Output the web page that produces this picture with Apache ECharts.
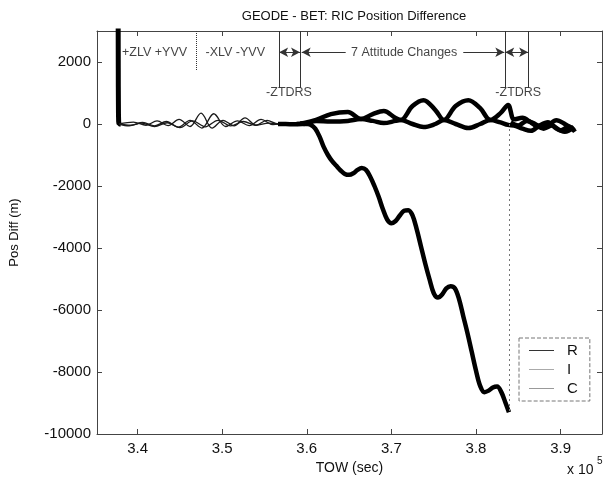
<!DOCTYPE html>
<html><head><meta charset="utf-8">
<script src="https://cdn.jsdelivr.net/npm/echarts@6/dist/echarts.min.js"></script>
<style>html,body{margin:0;padding:0;background:#fff}#c{width:609px;height:485px}</style>
</head><body><div id="c"></div>
<script>
// ---- axis ticks ----
const xTicks = [340000, 350000, 360000, 370000, 380000, 390000];
const yTicks = [-10000, -8000, -6000, -4000, -2000, 0, 2000];

// ---- initial convergence spike ----
const spikeTow = [337700, 337705, 337710, 337715, 337720, 337730, 337740, 337760, 337800, 338000];
const spikeVal = [3600, 3000, 2400, 1800, 1200, 700, 300, 80, 0, 0];

// ---- early (thin) parts ----
const rEarlyTow = [337800, 339500, 341000, 342300, 343600, 344900, 346200, 347500, 348800, 350100, 351400, 352700, 354000, 355300, 356600, 357900, 359200];
const rEarlyVal = [0, 60, -40, 100, -50, 150, -80, 350, -130, 120, -60, 200, -40, 120, 0, 40, 20];
const iEarlyTow = [337800, 339000, 340500, 342000, 343500, 345000, 346500, 348000, 349500, 351000, 352500, 354000, 355500, 356600];
const iEarlyVal = [0, -60, 30, -80, 40, -120, 100, -90, 120, -60, 80, -40, 30, 0];
const cEarlyTow = [337800, 339200, 340600, 342000, 343400, 344800, 346200, 347600, 349000, 350400, 351800, 353200, 354600, 356000, 357400, 358800];
const cEarlyVal = [0, -40, 50, -60, 80, -100, 120, -130, 330, -80, 100, -50, 150, -20, 30, 0];

// ---- later (thick) parts ----
const rTow = [359200, 359700, 361100, 362850, 364850, 366400, 367800, 369100, 370500, 371100, 372500, 373800, 375200, 376200, 377600, 379100, 380500, 381700, 382900, 383800, 384500, 385500, 386500, 387500, 388500, 389500, 390500, 391600];
const rVal = [20, 30, 130, 320, 390, 160, 320, 420, 190, 130, 580, 770, 450, 130, 580, 770, 510, 130, 350, 610, 150, 200, 50, -100, -50, 120, 0, -200];
const cTow = [358800, 359700, 361100, 362850, 364850, 366400, 367800, 369100, 370500, 371100, 372500, 373800, 375200, 376200, 377600, 379100, 380500, 381700, 382900, 383800, 384500, 385500, 386500, 387500, 388500, 389500, 390500, 391600];
const cVal = [0, 0, 100, 80, 100, 160, 100, 30, 100, 130, 0, -100, 0, 130, 0, -130, 0, 130, 50, -30, -50, -150, -220, -50, 60, -150, -250, -100];
const iTow = [356600, 357500, 358500, 359500,
  360000, 360500, 361000, 361500, 362000, 362500, 363000, 363500, 364000, 364500,
  365000, 365500, 366000, 366500, 367000, 367500, 368000, 368500, 369000, 369500,
  370000, 370500, 371000, 371500, 372000, 372500, 373000, 373500, 374000, 374500,
  375000, 375500, 376000, 376500, 377000, 377500, 378000, 378500, 379000, 379500,
  380000, 380500, 381000, 381500, 382000, 382500, 383000, 383500, 383900];
const iVal = [0, 0, -10, 10,
  0, -30, -150, -400, -740, -1000, -1200, -1350, -1500, -1610,
  -1640, -1590, -1480, -1420, -1480, -1700, -2000, -2350, -2750, -3080,
  -3200, -3130, -2950, -2800, -2780, -2950, -3400, -3950, -4500, -5000,
  -5450, -5600, -5500, -5300, -5230, -5300, -5650, -6200, -6750, -7350,
  -7950, -8450, -8650, -8600, -8500, -8470, -8650, -9000, -9300];
const iAfterTow = [384100, 385000, 386000, 387000, 388000, 389000, 390000, 391000, 391700];
const iAfterVal = [50, -50, 100, 0, -150, -50, -200, -80, -250];

// ---- annotations (data space) ----
const markerTow = [346950, 356730, 359200, 383460, 386170];
const markerBottom = [1740, 1160, 1160, 1160, 1160];
const labelTexts = ['+ZLV +YVV', '-XLV -YVV', '7 Attitude Changes', '-ZTDRS', '-ZTDRS'];
const labelTow = [342000, 351540, 371510, 357900, 385000];
const labelVal = [2315, 2315, 2315, 1030, 1030];
const arrowRowVal = 2315;
const jumpTow = 383900;

const zip = (a, b) => a.map((v, i) => [v, b[i]]);
const FONT = 'Liberation Sans, Arial, sans-serif';
const XMIN = 335200, XMAX = 394900, YMIN = -10000, YMAX = 3000;

const thin = { color: '#1a1a1a', width: 1.3 };
const thick = { color: '#000', width: 4.5 };
function line(name, data, ls, extra) {
  return Object.assign({ type: 'line', name, data: data, symbol: 'none', showSymbol: false, smooth: 0.35,
    lineStyle: ls, itemStyle: { color: ls.color }, clip: true, silent: true, z: 3 }, extra || {});
}

const annotLines = [];
markerTow.forEach((t, i) => {
  annotLines.push([{ coord: [t, YMAX], symbol: 'none', lineStyle: { type: i === 0 ? 'dotted' : 'solid' } },
                   { coord: [t, markerBottom[i]], symbol: 'none' }]);
});
annotLines.push([{ coord: [markerTow[1], arrowRowVal], symbol: 'arrow' }, { coord: [markerTow[2], arrowRowVal], symbol: 'arrow' }]);
annotLines.push([{ coord: [markerTow[3], arrowRowVal], symbol: 'arrow' }, { coord: [markerTow[4], arrowRowVal], symbol: 'arrow' }]);
annotLines.push([{ coord: [359400, arrowRowVal], symbol: 'arrow' }, { coord: [364600, arrowRowVal], symbol: 'none' }]);
annotLines.push([{ coord: [378500, arrowRowVal], symbol: 'none' }, { coord: [383350, arrowRowVal], symbol: 'arrow' }]);
annotLines.push([{ coord: [jumpTow, 0], symbol: 'none', lineStyle: { type: [2, 3], color: '#777' } },
                 { coord: [jumpTow, iVal[iVal.length - 1]], symbol: 'none' }]);

const chart = echarts.init(document.getElementById('c'), null, { renderer: 'canvas' });
const axisCommon = {
  type: 'value', splitLine: { show: false },
  axisLine: { show: true, onZero: false, lineStyle: { color: '#444', width: 1 } },
};
const legendIcon = 'path://M0,0L25,0L25,1L0,1Z';
chart.setOption({
  animation: false,
  backgroundColor: '#fff',
  title: { text: 'GEODE - BET: RIC Position Difference', left: 349, top: 5, textAlign: 'center',
    textStyle: { fontFamily: FONT, fontSize: 13, fontWeight: 'normal', color: '#111' } },
  grid: { left: 95, right: 7, top: 31, bottom: 51, show: false },
  legend: {
    data: [
      { name: 'R', icon: legendIcon, itemStyle: { color: '#333', borderWidth: 0 } },
      { name: 'I', icon: legendIcon, itemStyle: { color: '#aaa', borderWidth: 0 } },
      { name: 'C', icon: legendIcon, itemStyle: { color: '#999', borderWidth: 0 } }
    ],
    orient: 'vertical', left: 519, top: 338, itemWidth: 25, itemHeight: 2, itemGap: 2,
    padding: [4, 12, 4, 10], borderColor: '#777', borderWidth: 1, borderType: 'dashed',
    backgroundColor: '#fff', selectedMode: false,
    textStyle: { fontFamily: FONT, fontSize: 15, color: '#111', padding: [0, 0, 0, 8], lineHeight: 17 }
  },
  xAxis: [
    Object.assign({}, axisCommon, { min: XMIN, max: XMAX, position: 'bottom',
      name: 'TOW (sec)', nameLocation: 'middle', nameGap: 27,
      nameTextStyle: { fontFamily: FONT, fontSize: 14, color: '#111' },
      axisTick: { show: true, inside: true, length: 5, customValues: xTicks, lineStyle: { color: '#444' } },
      axisLabel: { customValues: xTicks, margin: 7, fontFamily: FONT, fontSize: 15, color: '#111',
        formatter: v => (v / 1e5).toFixed(1) } }),
    Object.assign({}, axisCommon, { min: XMIN, max: XMAX, position: 'top',
      axisTick: { show: true, inside: true, length: 5, customValues: xTicks, lineStyle: { color: '#444' } },
      axisLabel: { show: false } })
  ],
  yAxis: [
    Object.assign({}, axisCommon, { min: YMIN, max: YMAX, position: 'left',
      name: 'Pos Diff (m)', nameLocation: 'middle', nameGap: 76,
      nameTextStyle: { fontFamily: FONT, fontSize: 13, color: '#111' },
      axisTick: { show: true, inside: true, length: 5, customValues: yTicks, lineStyle: { color: '#444' } },
      axisLabel: { customValues: yTicks, margin: 6, fontFamily: FONT, fontSize: 15, color: '#111',
        formatter: v => String(v) } }),
    Object.assign({}, axisCommon, { min: YMIN, max: YMAX, position: 'right',
      axisTick: { show: true, inside: true, length: 5, customValues: yTicks, lineStyle: { color: '#444' } },
      axisLabel: { show: false } })
  ],
  series: [
    line('R', zip(spikeTow, spikeVal), { color: '#000', width: 5 }, { smooth: false }),
    line('R', zip(rEarlyTow, rEarlyVal), thin),
    line('I', zip(iEarlyTow, iEarlyVal), thin),
    line('C', zip(cEarlyTow, cEarlyVal), thin),
    line('R', zip(rTow, rVal), thick),
    line('C', zip(cTow, cVal), thick),
    line('I', zip(iTow, iVal), thick),
    line('I', zip(iAfterTow, iAfterVal), thick),
    {
      type: 'line', name: 'annot', data: [], silent: true, symbol: 'none',
      markLine: { silent: true, animation: false, symbol: ['none', 'none'], symbolSize: [7, 9],
        label: { show: false },
        lineStyle: { color: '#333', width: 1, type: 'solid' },
        emphasis: { disabled: true },
        data: annotLines }
    },
    {
      type: 'scatter', name: 'labels', silent: true, symbolSize: 1,
      itemStyle: { color: 'rgba(0,0,0,0)' },
      data: labelTow.map((t, i) => [t, labelVal[i], labelTexts[i]]),
      label: { show: true, position: 'inside', formatter: p => p.data[2],
        fontFamily: FONT, fontSize: 12.5, color: '#111' }
    }
  ],
  graphic: [
    { type: 'text', left: 567, top: 463, style: { text: 'x 10', fontFamily: FONT, fontSize: 14, fill: '#111' } },
    { type: 'text', left: 597, top: 456, style: { text: '5', fontFamily: FONT, fontSize: 10, fill: '#111' } }
  ]
});
</script>
</body></html>
